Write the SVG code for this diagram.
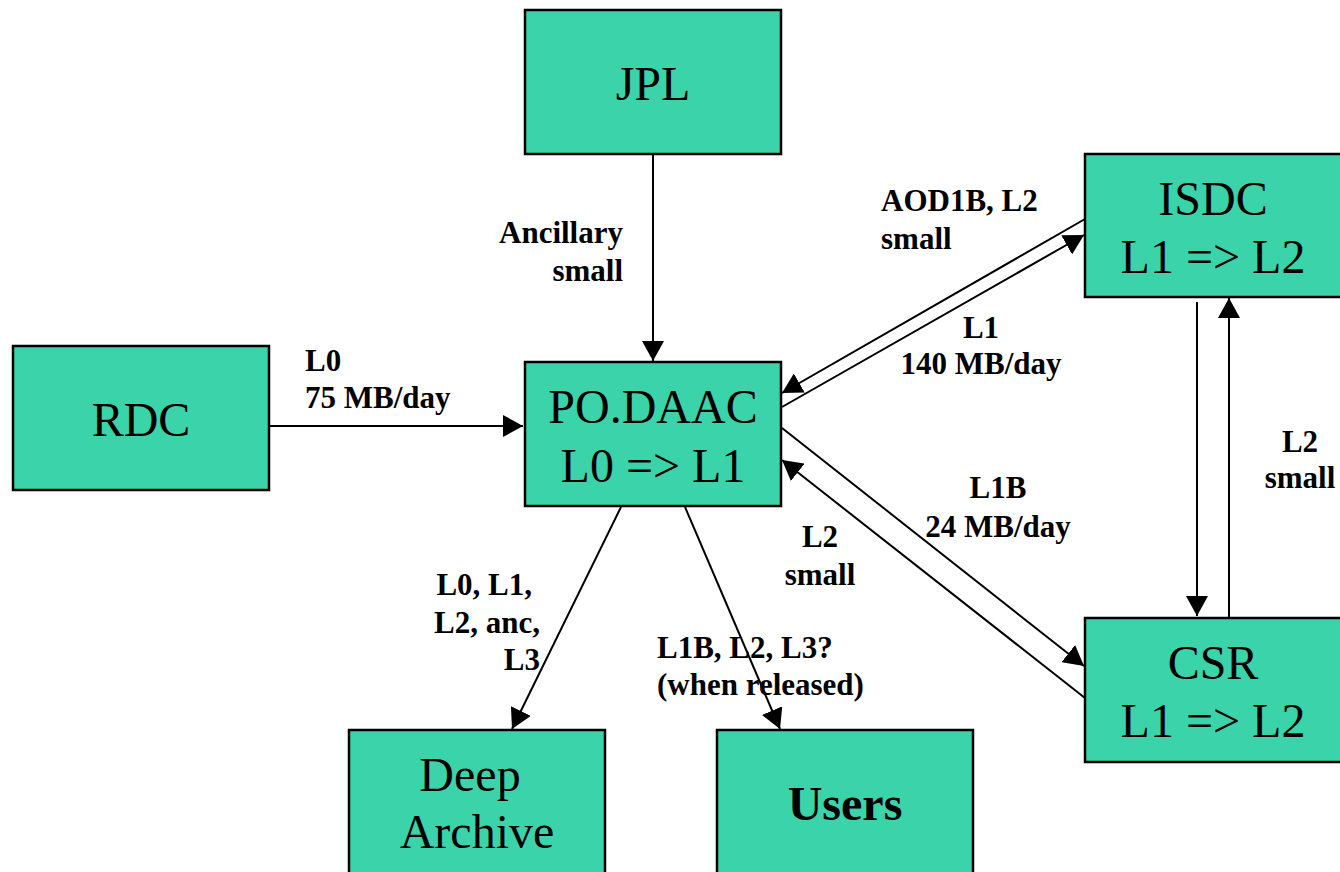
<svg xmlns="http://www.w3.org/2000/svg" width="1340" height="872" viewBox="0 0 1340 872">
<style>
.box{fill:#3BD4AA;stroke:#000;stroke-width:2.5}
.big{font-family:"Liberation Serif","Times New Roman",serif;font-size:48px;fill:#000;text-anchor:middle}
.lbl{font-family:"Liberation Serif","Times New Roman",serif;font-size:31px;font-weight:bold;fill:#000}
.c{stroke:#000;stroke-width:2;fill:none;marker-end:url(#ah)}
</style>
<defs>
<marker id="ah" markerUnits="userSpaceOnUse" markerWidth="20" markerHeight="22" refX="20" refY="11" orient="auto">
<path d="M0,0 L20,11 L0,22 z" fill="#000"/>
</marker>
</defs>
<rect width="1340" height="872" fill="#fff"/>
<g id="connectors">
<line class="c" x1="653" y1="155" x2="653" y2="361"/>
<line class="c" x1="269" y1="426" x2="523" y2="426"/>
<line class="c" x1="1085" y1="219" x2="782" y2="393"/>
<line class="c" x1="782" y1="407" x2="1084" y2="235"/>
<line class="c" x1="782" y1="428" x2="1084" y2="666"/>
<line class="c" x1="1085" y1="698" x2="782" y2="460"/>
<line class="c" x1="1197" y1="302" x2="1197" y2="616"/>
<line class="c" x1="1229" y1="618" x2="1229" y2="298"/>
<line class="c" x1="621" y1="507" x2="512" y2="729"/>
<line class="c" x1="685" y1="507" x2="780" y2="729"/>
</g>
<g id="labels">
<text class="lbl" x="623" y="243" text-anchor="end">Ancillary</text>
<text class="lbl" x="623" y="281" text-anchor="end">small</text>
<text class="lbl" x="305" y="371">L0</text>
<text class="lbl" x="305" y="408">75 MB/day</text>
<text class="lbl" x="881" y="211">AOD1B, L2</text>
<text class="lbl" x="881" y="249">small</text>
<text class="lbl" x="981" y="338" text-anchor="middle">L1</text>
<text class="lbl" x="981" y="374" text-anchor="middle">140 MB/day</text>
<text class="lbl" x="998" y="498" text-anchor="middle">L1B</text>
<text class="lbl" x="998" y="537" text-anchor="middle">24 MB/day</text>
<text class="lbl" x="820" y="547" text-anchor="middle">L2</text>
<text class="lbl" x="820" y="585" text-anchor="middle">small</text>
<text class="lbl" x="1300" y="452" text-anchor="middle">L2</text>
<text class="lbl" x="1300" y="488" text-anchor="middle">small</text>
<text class="lbl" x="532" y="595" text-anchor="end">L0, L1,</text>
<text class="lbl" x="540" y="633" text-anchor="end">L2, anc,</text>
<text class="lbl" x="540" y="670" text-anchor="end">L3</text>
<text class="lbl" x="657" y="658">L1B, L2, L3?</text>
<text class="lbl" x="657" y="695">(when released)</text>
</g>
<g id="jpl"><rect class="box" x="525" y="10" width="256" height="144"/><text class="big" x="653" y="100">JPL</text></g>
<g id="isdc"><rect class="box" x="1085" y="154" width="258" height="143"/><text class="big" x="1213" y="215">ISDC</text><text class="big" x="1213" y="273">L1 =&gt; L2</text></g>
<g id="rdc"><rect class="box" x="13" y="346" width="256" height="144"/><text class="big" x="141" y="436">RDC</text></g>
<g id="podaac"><rect class="box" x="525" y="362" width="256" height="144"/><text class="big" x="653" y="423">PO.DAAC</text><text class="big" x="653" y="482">L0 =&gt; L1</text></g>
<g id="csr"><rect class="box" x="1085" y="618" width="258" height="144"/><text class="big" x="1213" y="679">CSR</text><text class="big" x="1213" y="737">L1 =&gt; L2</text></g>
<g id="deeparchive"><rect class="box" x="349" y="730" width="256" height="150"/><text class="big" x="470" y="791">Deep</text><text class="big" x="477" y="848">Archive</text></g>
<g id="users"><rect class="box" x="717" y="730" width="256" height="150"/><text class="big" x="845" y="820" font-weight="bold">Users</text></g>
</svg>
